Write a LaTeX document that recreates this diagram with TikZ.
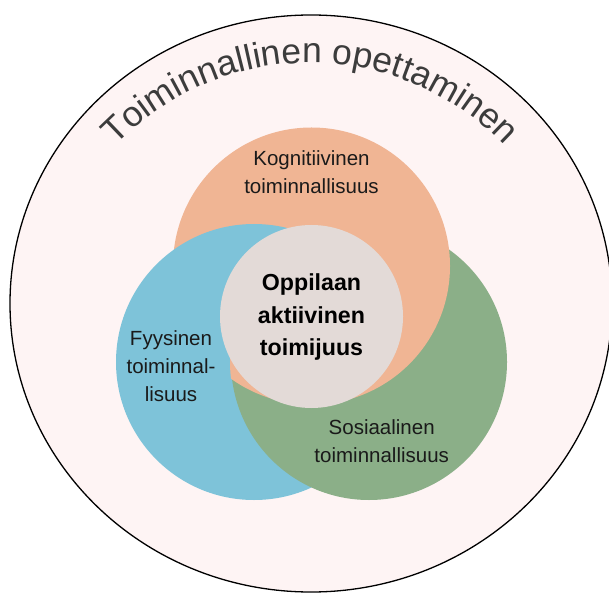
\documentclass[tikz,border=0pt]{standalone}
\usepackage{fontspec}
\setmainfont{Liberation Sans}
\usetikzlibrary{decorations.text}
\definecolor{bgpink}{HTML}{FEF4F4}
\definecolor{orangec}{HTML}{F0B594}
\definecolor{bluec}{HTML}{7EC3D9}
\definecolor{greenc}{HTML}{8BAF88}
\definecolor{grayc}{HTML}{E3DAD7}
\definecolor{titlegray}{HTML}{3C3C3C}
\definecolor{labelc}{HTML}{1A1A1A}
\newcommand\titlefnt{\fontsize{35.5}{35.5}\selectfont\color{titlegray}}
\tikzset{
  venn/.style={circle, inner sep=0pt, draw=none},
  lbl/.style={align=center, text=labelc, font=\fontsize{20.5}{28.3}\selectfont, inner sep=0pt},
  corelbl/.style={align=center, text=black, font=\fontsize{23.2}{32.5}\selectfont\bfseries, inner sep=0pt}
}
\begin{document}
\begin{tikzpicture}[x=1pt,y=1pt]
\clip (0,0) rectangle (609,592);
\fill[white] (0,0) rectangle (609,592);
\draw[fill=bgpink, line width=1.3pt] (311,288.5) ellipse [x radius=301, y radius=288.5];
\node[venn, fill=orangec, minimum size=277pt] (cog) at (311.5,326) {};
\node[venn, fill=bluec, minimum size=276pt] (phy) at (254,230) {};
\node[venn, fill=greenc, minimum size=276pt] (soc) at (369,230) {};
\begin{scope}
  \clip (369,230) circle (139);
  \fill[orangec] (311.5,326) circle (138.5);
\end{scope}
\node[venn, fill=grayc, minimum size=183pt] (core) at (311.5,275.5) {};
\path[decorate, decoration={text along path, text align=center,
  text={|\titlefnt|Toiminnallinen opettaminen}}]
  (310,259) ++(155:270) arc[start angle=155, end angle=25, radius=270];
\node[lbl] (coglbl) at (311.5,420) {Kognitiivinen\\toiminnallisuus};
\node[lbl] (phylbl) at (171,226) {Fyysinen\\toiminnal-\\lisuus};
\node[lbl] (soclbl) at (381.7,151) {Sosiaalinen\\toiminnallisuus};
\node[corelbl] (corelbl) at (311.5,275) {Oppilaan\\aktiivinen\\toimijuus};
\end{tikzpicture}
\end{document}
